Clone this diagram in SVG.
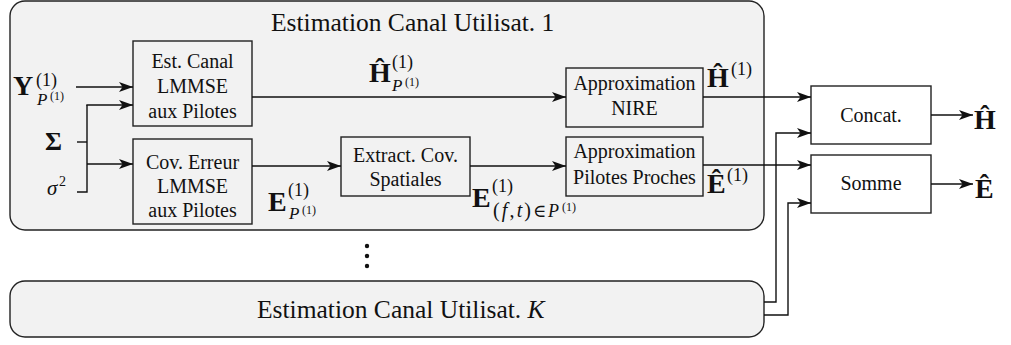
<svg xmlns="http://www.w3.org/2000/svg" width="1011" height="345" viewBox="0 0 1011 345">
<defs>
<marker id="arr" markerUnits="userSpaceOnUse" markerWidth="15" markerHeight="11" refX="14" refY="5" orient="auto">
<path d="M0,0 L14,5 L0,10 L3.5,5 Z" fill="#111"/>
</marker>
<style>
text{font-family:"Liberation Serif","Times New Roman",Tinos,"DejaVu Serif",serif}
.cont{fill:#f2f2f2;stroke:#222;stroke-width:1.4}
.box{fill:#f2f2f2;stroke:#222;stroke-width:1.4}
.wbox{fill:#fff;stroke:#222;stroke-width:1.4}
.t{font-size:20px;fill:#111;text-anchor:middle}
.ttl{font-size:25.5px;fill:#111}
.mb{font-weight:bold;fill:#111}
.mr{fill:#111}
.mi{font-style:italic;fill:#111}
.ln{fill:none;stroke:#111;stroke-width:1.4}
.ar{fill:none;stroke:#111;stroke-width:1.4;marker-end:url(#arr)}
</style>
</defs>

<g id="user1">
<rect class="cont" x="10" y="1" width="754" height="229" rx="15"/>
<text class="ttl" x="271" y="31">Estimation Canal Utilisat. 1</text>
</g>

<g id="userK">
<rect class="cont" x="10" y="281" width="754" height="56" rx="15"/>
<text class="ttl" x="257" y="318">Estimation Canal Utilisat. <tspan font-style="italic">K</tspan></text>
</g>

<g id="dots" fill="#111">
<circle cx="367" cy="246" r="2.2"/>
<circle cx="367" cy="256" r="2.2"/>
<circle cx="367" cy="266" r="2.2"/>
</g>

<g id="estcanal">
<rect class="box" x="133" y="41" width="119" height="85"/>
<text class="t" x="192.5" y="68">Est. Canal</text>
<text class="t" x="192.5" y="93">LMMSE</text>
<text class="t" x="192.5" y="118">aux Pilotes</text>
</g>

<g id="coverreur">
<rect class="box" x="133" y="139" width="119" height="85"/>
<text class="t" x="192.5" y="169">Cov. Erreur</text>
<text class="t" x="192.5" y="193">LMMSE</text>
<text class="t" x="192.5" y="217">aux Pilotes</text>
</g>

<g id="extract">
<rect class="box" x="341" y="137" width="129" height="59"/>
<text class="t" x="405.5" y="162">Extract. Cov.</text>
<text class="t" x="405.5" y="186">Spatiales</text>
</g>

<g id="nire">
<rect class="box" x="566" y="68" width="137" height="59"/>
<text class="t" x="634.5" y="90">Approximation</text>
<text class="t" x="634.5" y="115">NIRE</text>
</g>

<g id="proches">
<rect class="box" x="566" y="137" width="137" height="59"/>
<text class="t" x="634.5" y="158">Approximation</text>
<text class="t" x="634.5" y="184">Pilotes Proches</text>
</g>

<g id="concat">
<rect class="wbox" x="811" y="86" width="120" height="58"/>
<text class="t" x="871" y="122">Concat.</text>
</g>

<g id="somme">
<rect class="wbox" x="811" y="155" width="120" height="58"/>
<text class="t" x="871" y="190">Somme</text>
</g>

<g id="connectors">
<line class="ar" x1="76" y1="87" x2="133" y2="87"/>
<polyline class="ln" points="77,142 87,142"/>
<polyline class="ln" points="77,192 87,192 87,105"/>
<line class="ar" x1="86.3" y1="105" x2="133" y2="105"/>
<line class="ar" x1="87" y1="164" x2="133" y2="164"/>
<line class="ar" x1="252" y1="97" x2="566" y2="97"/>
<line class="ar" x1="252" y1="166" x2="341" y2="166"/>
<line class="ar" x1="470" y1="166" x2="566" y2="166"/>
<line class="ar" x1="703" y1="97" x2="811" y2="97"/>
<line class="ar" x1="703" y1="165" x2="811" y2="165"/>
<polyline class="ar" points="764,302 776,302 776,133 811,133"/>
<polyline class="ar" points="764,315 788,315 788,203 811,203"/>
<line class="ar" x1="931" y1="115" x2="973" y2="115"/>
<line class="ar" x1="931" y1="184" x2="973" y2="184"/>
</g>

<g id="labels">
<text class="mb" x="13" y="95" font-size="28">Y</text>
<text class="mr" x="36" y="86" font-size="18">(1)</text>
<text class="mi" x="37" y="105" font-size="17">P</text>
<text class="mr" x="50" y="100" font-size="12">(1)</text>

<text class="mb" x="45" y="150" font-size="26">Σ</text>
<text class="mi" x="47" y="195" font-size="21">σ</text>
<text class="mr" x="59" y="186" font-size="14">2</text>

<text class="mb" x="369" y="82" font-size="28">Ĥ</text>
<text class="mr" x="392" y="68" font-size="18">(1)</text>
<text class="mi" x="392" y="91" font-size="17">P</text>
<text class="mr" x="405" y="86" font-size="12">(1)</text>

<text class="mb" x="707" y="87" font-size="28">Ĥ</text>
<text class="mr" x="731" y="75" font-size="18">(1)</text>

<text class="mb" x="707" y="193" font-size="28">Ê</text>
<text class="mr" x="727" y="181" font-size="18">(1)</text>

<text class="mb" x="268" y="211" font-size="28">E</text>
<text class="mr" x="288" y="196" font-size="18">(1)</text>
<text class="mi" x="289" y="219" font-size="17">P</text>
<text class="mr" x="302" y="214" font-size="12">(1)</text>

<text class="mb" x="472" y="207" font-size="28">E</text>
<text class="mr" x="492" y="192" font-size="18">(1)</text>
<text class="mr" x="493" y="217" font-size="20" textLength="38" lengthAdjust="spacing">(<tspan font-style="italic">f</tspan>,<tspan font-style="italic">t</tspan>)</text>
<text class="mr" x="533" y="217" font-size="18">∈</text>
<text class="mi" x="548" y="217" font-size="18">P</text>
<text class="mr" x="562" y="211" font-size="12">(1)</text>

<text class="mb" x="974" y="129" font-size="28">Ĥ</text>
<text class="mb" x="975" y="198" font-size="28">Ê</text>
</g>
</svg>
